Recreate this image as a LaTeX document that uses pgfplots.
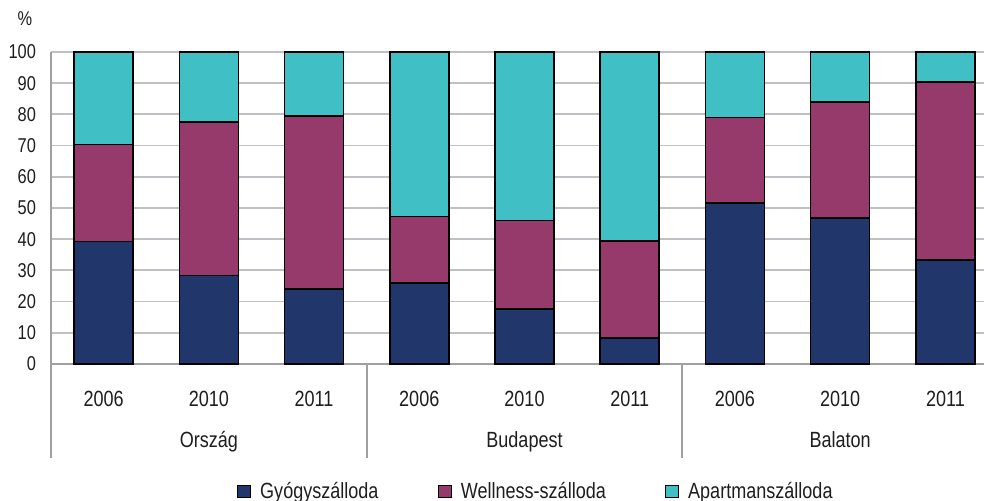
\documentclass[border=0pt]{standalone}
\usepackage{pgfplots}
\pgfplotsset{compat=1.18}
\usepackage{fontspec}
\setmainfont{Liberation Sans}[FakeStretch=0.82]
\definecolor{navy}{HTML}{21376C}
\definecolor{plum}{HTML}{963A6C}
\definecolor{tealc}{HTML}{40BFC4}
\definecolor{gridc}{HTML}{BFBFC4}
\definecolor{axc}{HTML}{A0A0A0}
\definecolor{txt}{HTML}{1E1E1E}
\begin{document}
\begin{tikzpicture}
\begin{axis}[
  scale only axis, width=473.5pt, height=156pt,
  xmin=-0.5, xmax=8.5, ymin=0, ymax=100,
  ybar stacked, bar width=29.5pt,
  xtick={0,...,8},
  xticklabels={2006,2010,2011,2006,2010,2011,2006,2010,2011},
  ytick={0,10,...,100},
  major tick length=0pt,
  ymajorgrids, grid style={gridc, line width=0.9pt},
  axis x line=bottom, axis y line=left,
  axis line style={axc, line width=0.9pt, -},
  xticklabel style={anchor=base, yshift=-21.3pt, font=\fontsize{11}{13}\selectfont, text=txt},
  yticklabel style={anchor=east, xshift=-4pt, font=\fontsize{10}{12}\selectfont, text=txt},
  /pgf/number format/assume math mode=true,
  clip=false,
  every axis plot/.append style={draw=black, line width=0.8pt},
  legend columns=3,
  legend style={draw=none, fill=none, at={(0,0)}, anchor=west, xshift=93pt, yshift=-64pt,
    font=\fontsize{11}{13}\selectfont, text=txt, inner sep=0pt,
    nodes={inner xsep=1.75pt, inner ysep=0pt},
    /tikz/every even column/.append style={column sep=28pt}},
  legend image code/.code={\draw[#1,draw=black,line width=0.5pt] (0pt,-3pt) rectangle (6.5pt,3pt); \path (9pt,0pt);},
]
\addplot[fill=navy] coordinates {(0,39.3) (1,28.3) (2,24.0) (3,26.0) (4,17.6) (5,8.4) (6,51.6) (7,46.7) (8,33.3)};
\addplot[fill=plum] coordinates {(0,31.0) (1,49.3) (2,55.4) (3,21.3) (4,28.4) (5,31.1) (6,27.4) (7,37.3) (8,57.1)};
\addplot[fill=tealc] coordinates {(0,29.7) (1,22.4) (2,20.6) (3,52.7) (4,54.0) (5,60.5) (6,21.0) (7,16.0) (8,9.6)};
\legend{Gyógyszálloda, Wellness-szálloda, Apartmanszálloda}
\draw[axc, line width=0.9pt] (axis cs:-0.5,0) -- ++(0pt,-47pt);
\draw[axc, line width=0.9pt] (axis cs:2.5,0) -- ++(0pt,-47pt);
\draw[axc, line width=0.9pt] (axis cs:5.5,0) -- ++(0pt,-47pt);
\draw[axc, line width=0.9pt] (axis cs:8.5,0) -- ++(0pt,-47pt);
\node[anchor=base, font=\fontsize{11}{13}\selectfont, text=txt] at ([yshift=-42pt]axis cs:1,0) {Ország};
\node[anchor=base, font=\fontsize{11}{13}\selectfont, text=txt] at ([yshift=-42pt]axis cs:4,0) {Budapest};
\node[anchor=base, font=\fontsize{11}{13}\selectfont, text=txt] at ([yshift=-42pt]axis cs:7,0) {Balaton};
\node[font=\fontsize{10}{12}\selectfont, text=txt] at ([xshift=-13pt,yshift=16.5pt]rel axis cs:0,1) {\%};
\end{axis}
\pgfresetboundingbox
\path ([xshift=-25.5pt,yshift=-68.5pt]current axis.south west) rectangle ([xshift=-7pt,yshift=26pt]current axis.north east);
\end{tikzpicture}
\end{document}
